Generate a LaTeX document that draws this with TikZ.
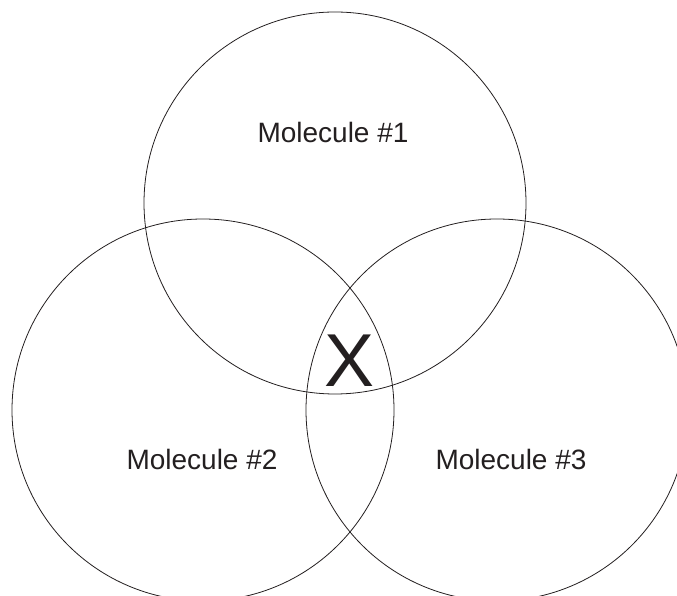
\documentclass[tikz,border=0pt]{standalone}
\usepackage{fontspec}
\setmainfont{Liberation Sans}
\definecolor{ink}{HTML}{231F20}
\begin{document}
\begin{tikzpicture}[x=1pt,y=1pt,
  mol/.style={circle,draw=ink,line width=0.8pt,minimum size=382pt,inner sep=0pt},
  lbl/.style={anchor=base,text=ink,font=\fontsize{28}{30}\selectfont,inner sep=0pt}]
\useasboundingbox (0,0) rectangle (677,596);
\clip (0,0) rectangle (677,596);
\node[mol] (c1) at (335,393) {};
\node[mol] (c2) at (203,186) {};
\node[mol] (c3) at (497,186) {};
\node[lbl] (t1) at (333,453) {Molecule \#1};
\node[lbl] (t2) at (202,126) {Molecule \#2};
\node[lbl] (t3) at (511,126) {Molecule \#3};
\node[lbl,font=\fontsize{75}{78}\selectfont] (x) at (350,209) {X};
\end{tikzpicture}
\end{document}
